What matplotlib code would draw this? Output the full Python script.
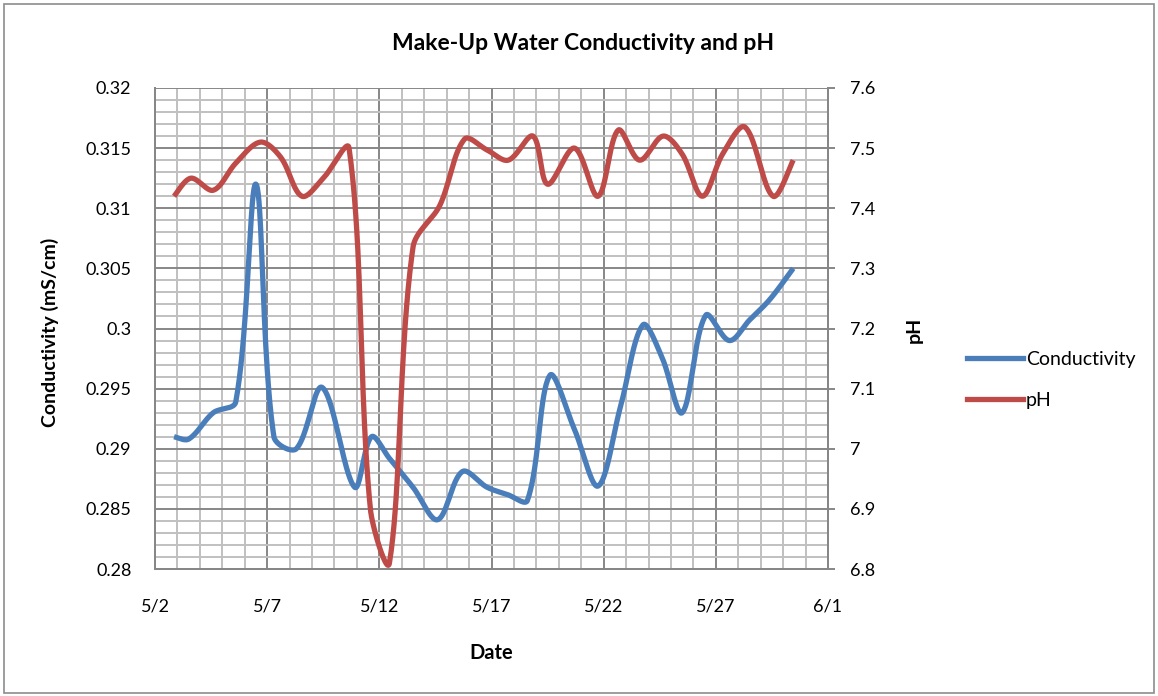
import numpy as np
import matplotlib
matplotlib.use("Agg")
import matplotlib.pyplot as plt
import matplotlib.dates as mdates
from matplotlib.ticker import MultipleLocator, FuncFormatter
from matplotlib.lines import Line2D
from matplotlib.patches import Rectangle
from datetime import datetime

plt.rcParams['font.family'] = ['Lato', 'DejaVu Sans']

start = datetime(2012, 5, 2)

# days after 5/2, conductivity in mS/cm
cond_days = [0.85, 1.5, 2.6, 3.6, 4.5, 5.3, 6.3, 7.45, 8.9, 9.65, 10.45, 11.5,
             12.6, 13.7, 14.8, 15.7, 16.6, 17.6, 18.7, 19.75, 20.75, 21.75,
             22.6, 23.5, 24.55, 25.6, 26.5, 27.4, 28.45]
cond_vals = [0.2910, 0.2908, 0.2930, 0.2939, 0.3120, 0.2910, 0.2900, 0.2951,
             0.2868, 0.2910, 0.2892, 0.2868, 0.2841, 0.2881, 0.2868, 0.2862,
             0.2857, 0.2961, 0.2916, 0.2869, 0.2935, 0.3003, 0.2976, 0.2930,
             0.3011, 0.2990, 0.3007, 0.3024, 0.3050]

# days after 5/2, pH
ph_days = [0.85, 1.6, 2.6, 3.6, 4.7, 5.6, 6.55, 7.5, 8.65, 9.6, 10.45, 11.5,
           12.7, 13.8, 14.8, 15.75, 16.85, 17.5, 18.7, 19.75, 20.65, 21.6,
           22.65, 23.5, 24.4, 25.3, 26.3, 27.55, 28.45]
ph_vals = [7.42, 7.45, 7.43, 7.475, 7.51, 7.485, 7.42, 7.45, 7.50, 6.90, 6.81,
           7.335, 7.405, 7.515, 7.497, 7.48, 7.52, 7.44, 7.50, 7.42, 7.53, 7.48,
           7.52, 7.49, 7.42, 7.49, 7.535, 7.42, 7.48]

x_ticks = [0, 5, 10, 15, 20, 25, 30]
cond_ticks = [0.28, 0.285, 0.29, 0.295, 0.3, 0.305, 0.31, 0.315, 0.32]
ph_ticks = [6.8, 6.9, 7.0, 7.1, 7.2, 7.3, 7.4, 7.5, 7.6]

blue = '#4A7EBB'
red = '#BE4B48'
grid_major = '#878787'
grid_minor = '#c0c0c0'


def smooth(xs, ys, sx, sy, n=40):
    # bezier pieces through each point; tangent from the neighbours,
    # shortened on the side of the shorter segment
    p = np.column_stack([np.asarray(xs) * sx, np.asarray(ys) * sy])
    out = []
    t = np.linspace(0, 1, n)[:, None]
    for i in range(len(p) - 1):
        p0 = p[i - 1] if i > 0 else p[i]
        p3 = p[i + 2] if i + 2 < len(p) else p[i + 1]
        p1, p2 = p[i], p[i + 1]
        l0 = np.hypot(*(p1 - p0))
        l1 = np.hypot(*(p2 - p1))
        l2 = np.hypot(*(p3 - p2))
        c1 = p1 + (p2 - p0) * (l1 / (l0 + l1) if l0 > 0 else 0.5) / 3
        c2 = p2 - (p3 - p1) * (l1 / (l1 + l2) if l2 > 0 else 0.5) / 3
        seg = (1 - t) ** 3 * p1 + 3 * (1 - t) ** 2 * t * c1 + 3 * (1 - t) * t ** 2 * c2 + t ** 3 * p2
        out.append(seg if i == 0 else seg[1:])
    out = np.vstack(out)
    return out[:, 0] / sx, out[:, 1] / sy


x0 = mdates.date2num(start)

fig = plt.figure(figsize=(11.58, 6.96), dpi=100)
fig.patches.append(Rectangle((0.0035, 0.005), 0.993, 0.989, transform=fig.transFigure,
                             fill=False, edgecolor='#8c8c8c', linewidth=1.2))

ax = fig.add_axes([155 / 1158, 1 - 569 / 696, (828 - 155) / 1158, (569 - 88) / 696])
ax2 = ax.twinx()

cx, cy = smooth(cond_days, cond_vals, 673 / 30, 481 / 0.04)
px, py = smooth(ph_days, ph_vals, 673 / 30, 481 / 0.8)
ax.plot(x0 + cx, cy, color=blue, linewidth=3.8, solid_capstyle='butt', zorder=3)
ax2.plot(x0 + px, py, color=red, linewidth=3.8, solid_capstyle='butt', zorder=3)

ax.set_xlim(x0, x0 + 30)
ax.set_ylim(0.28, 0.32)
ax2.set_ylim(6.8, 7.6)

ax.set_xticks([x0 + d for d in x_ticks])
ax.xaxis.set_minor_locator(MultipleLocator(1))
ax.xaxis.set_major_formatter(FuncFormatter(
    lambda v, p: f"{mdates.num2date(v).month}/{mdates.num2date(v).day}"))
ax.set_yticks(cond_ticks)
ax.yaxis.set_minor_locator(MultipleLocator(0.001))
ax.yaxis.set_major_formatter(FuncFormatter(lambda v, p: f"{round(v, 4):g}"))
ax2.set_yticks(ph_ticks)
ax2.yaxis.set_major_formatter(FuncFormatter(lambda v, p: f"{round(v, 2):g}"))

ax.grid(True, which='minor', color=grid_minor, linewidth=1.4, zorder=0)
ax.grid(True, which='major', color=grid_major, linewidth=1.4, zorder=1)
ax.set_axisbelow(True)

for a in (ax, ax2):
    for s in a.spines.values():
        s.set_color(grid_major)
        s.set_linewidth(1.4)
    a.spines['top'].set_visible(False)

ax.tick_params(axis='x', which='both', length=0, pad=21, labelsize=13)
ax.tick_params(axis='y', which='both', length=0, pad=17, labelsize=13)
ax2.tick_params(axis='y', which='major', length=5, width=1.4, color=grid_major,
                direction='out', pad=11, labelsize=13)
ax2.tick_params(axis='y', which='minor', length=0)

fig.text(583 / 1158, 1 - 43 / 696, 'Make-Up Water Conductivity and pH',
         ha='center', va='center', fontsize=16.5, fontweight='bold')
fig.text(491 / 1158, 1 - 653 / 696, 'Date', ha='center', va='center',
         fontsize=14.5, fontweight='bold')
fig.text(50 / 1158, 1 - 332 / 696, 'Conductivity (mS/cm)', ha='center', va='center',
         rotation=90, fontsize=14, fontweight='bold')
fig.text(914 / 1158, 1 - 330 / 696, 'pH', ha='center', va='center',
         rotation=90, fontsize=14, fontweight='bold')

handles = [Line2D([], [], color=blue, linewidth=3.8),
           Line2D([], [], color=red, linewidth=3.8)]
fig.legend(handles, ['Conductivity', 'pH'], loc='center left',
           bbox_to_anchor=(949 / 1158, 1 - 380 / 696), frameon=False,
           fontsize=14, handlelength=2.9, handletextpad=0.15, labelspacing=1.25)

fig.savefig('out.png', dpi=100)
